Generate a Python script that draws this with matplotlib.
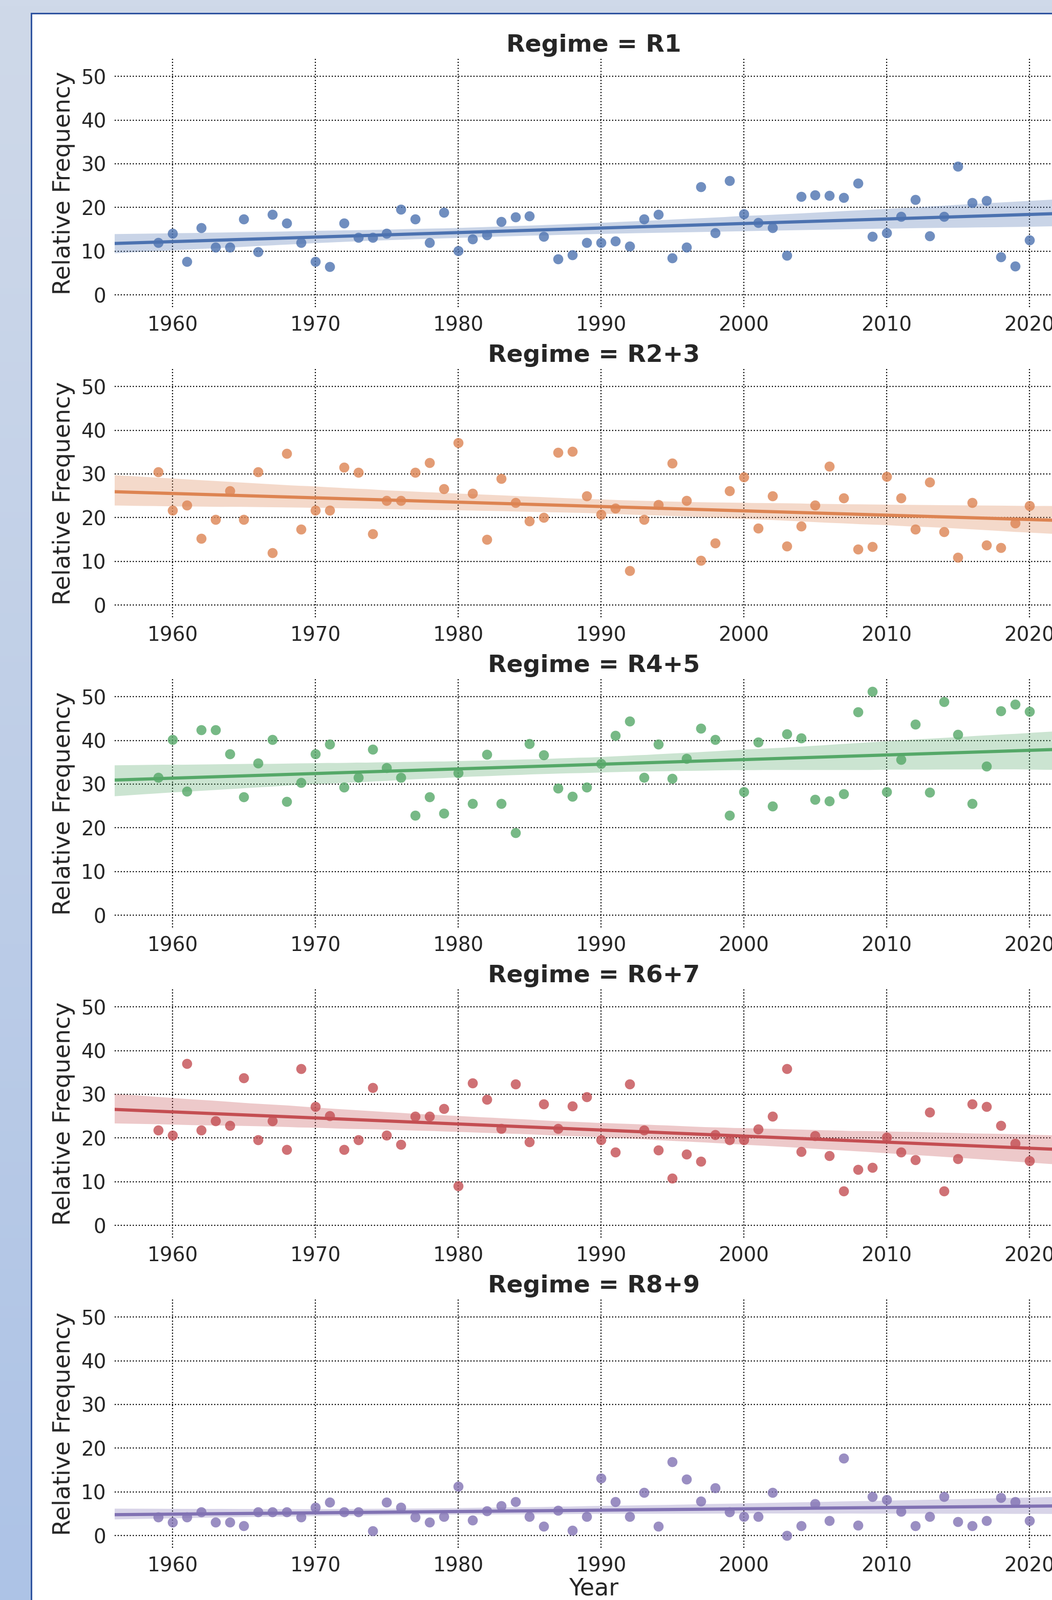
import numpy as np
import matplotlib.pyplot as plt
import seaborn as sns
from matplotlib.colors import LinearSegmentedColormap
from matplotlib.patches import Rectangle
from matplotlib.collections import PolyCollection

years = list(range(1959, 2021))

r1 = [12.0, 14.1, 7.6, 15.3, 10.9, 10.9, 17.4, 9.8, 18.4, 16.4,
      12.0, 7.6, 6.5, 16.4, 13.1, 13.1, 14.1, 19.6, 17.4, 12.0,
      18.9, 10.1, 12.8, 13.7, 16.7, 17.8, 18.0, 13.4, 8.2, 9.2,
      12.0, 12.0, 12.3, 11.1, 17.4, 18.4, 8.4, 10.9, 24.7, 14.2,
      26.1, 18.5, 16.5, 15.3, 9.0, 22.5, 22.9, 22.7, 22.3, 25.6,
      13.4, 14.2, 17.9, 21.8, 13.5, 17.9, 29.4, 21.1, 21.6, 8.7,
      6.6, 12.5]
r23 = [30.5, 21.7, 22.9, 15.2, 19.6, 26.1, 19.6, 30.5, 12.0, 34.7,
       17.4, 21.7, 21.7, 31.5, 30.4, 16.3, 23.9, 23.9, 30.4, 32.6,
       26.6, 37.1, 25.6, 15.0, 28.9, 23.4, 19.2, 20.0, 34.9, 35.2,
       25.0, 20.7, 22.2, 7.8, 19.6, 23.0, 32.5, 23.9, 10.2, 14.2,
       26.1, 29.3, 17.6, 25.0, 13.5, 18.0, 22.9, 31.8, 24.5, 12.8,
       13.4, 29.4, 24.5, 17.3, 28.1, 16.7, 10.9, 23.4, 13.7, 13.1,
       18.7, 22.7]
r45 = [31.5, 40.2, 28.3, 42.4, 42.4, 36.9, 27.1, 34.8, 40.2, 26.0,
       30.4, 36.9, 39.1, 29.3, 31.5, 38.0, 33.7, 31.5, 22.9, 27.1,
       23.3, 32.6, 25.6, 36.8, 25.6, 18.9, 39.3, 36.7, 29.1, 27.2,
       29.3, 34.7, 41.1, 44.4, 31.5, 39.1, 31.3, 35.9, 42.7, 40.2,
       22.9, 28.2, 39.6, 25.0, 41.5, 40.5, 26.5, 26.1, 27.8, 46.5,
       51.2, 28.2, 35.6, 43.7, 28.1, 48.8, 41.3, 25.6, 34.1, 46.7,
       48.3, 46.6]
r67 = [21.8, 20.6, 37.0, 21.8, 23.9, 22.8, 33.7, 19.6, 23.9, 17.4,
       35.9, 27.2, 25.1, 17.4, 19.6, 31.5, 20.6, 18.5, 24.9, 24.9,
       26.7, 9.0, 32.6, 28.8, 22.2, 32.3, 19.1, 27.8, 22.1, 27.3,
       29.4, 19.6, 16.7, 32.3, 21.8, 17.2, 10.8, 16.3, 14.6, 20.7,
       19.6, 19.6, 22.0, 25.0, 35.9, 16.9, 20.5, 15.9, 7.8, 12.8,
       13.3, 20.1, 16.7, 15.0, 25.9, 7.8, 15.2, 27.8, 27.2, 22.8,
       18.8, 14.8]
r89 = [4.2, 3.1, 4.2, 5.4, 3.1, 3.1, 2.2, 5.4, 5.4, 5.4,
       4.2, 6.5, 7.6, 5.4, 5.4, 1.1, 7.6, 6.5, 4.2, 3.1,
       4.4, 11.2, 3.5, 5.6, 6.8, 7.7, 4.4, 2.1, 5.8, 1.2,
       4.4, 13.1, 7.7, 4.4, 9.8, 2.1, 16.9, 12.9, 7.8, 10.9,
       5.4, 4.3, 4.4, 9.8, 0.0, 2.2, 7.3, 3.4, 17.7, 2.3,
       8.9, 8.2, 5.5, 2.2, 4.4, 8.9, 3.2, 2.2, 3.4, 8.7,
       7.7, 3.4]

regimes = ["R1", "R2+3", "R4+5", "R6+7", "R8+9"]
series = [r1, r23, r45, r67, r89]
colors = sns.color_palette("deep")

W, H = 2055, 3126
fig = plt.figure(figsize=(W / 100, H / 100), dpi=100)

# page background (light blue gradient) with the white figure card on top
bg = fig.add_axes([0, 0, 1, 1], zorder=-10)
cmap = LinearSegmentedColormap.from_list("bg", ["#cfd9e9", "#adc3e6"])
bg.imshow(np.linspace(0, 1, 256)[:, None], aspect="auto", cmap=cmap,
          extent=[0, 1, 0, 1], origin="upper")
bg.add_patch(Rectangle((61 / W, -0.01), 1.0, 1.01 - 26 / H,
                       facecolor="white", edgecolor="#2f54a0", linewidth=2.2))
bg.set_xlim(0, 1)
bg.set_ylim(0, 1)
bg.axis("off")

text_col = "#262626"
for k, (name, vals) in enumerate(zip(regimes, series)):
    bottom = 600 + 606 * k
    ax = fig.add_axes([224 / W, 1 - bottom / H, 1872 / W, 485 / H])
    sns.regplot(x=years, y=vals, ax=ax, color=colors[k], truncate=False, seed=0,
                scatter_kws=dict(s=200, alpha=0.8, linewidths=0),
                line_kws=dict(linewidth=4.5))
    # confidence band a bit stronger than seaborn's default
    for c in ax.collections:
        if isinstance(c, PolyCollection):
            c.set_alpha(0.3)
    ax.set_xlim(1955.95, 2023.05)
    ax.set_ylim(-2.8, 54.0)
    ax.set_xticks(range(1960, 2021, 10))
    ax.set_yticks(range(0, 51, 10))
    ax.grid(True, color="black", linestyle=":", linewidth=1.6)
    ax.set_axisbelow(True)
    for s in ax.spines.values():
        s.set_visible(False)
    ax.tick_params(length=0, labelsize=28, labelcolor=text_col, pad=12)
    ax.set_title(f"Regime = {name}", fontsize=34, fontweight="bold",
                 color=text_col, pad=10)
    ax.set_ylabel("Relative Frequency", fontsize=33, color=text_col, labelpad=8)
    if k == len(regimes) - 1:
        ax.set_xlabel("Year", fontsize=33, color=text_col, labelpad=2)
    else:
        ax.set_xlabel("")

fig.savefig("out.png", dpi=100)
